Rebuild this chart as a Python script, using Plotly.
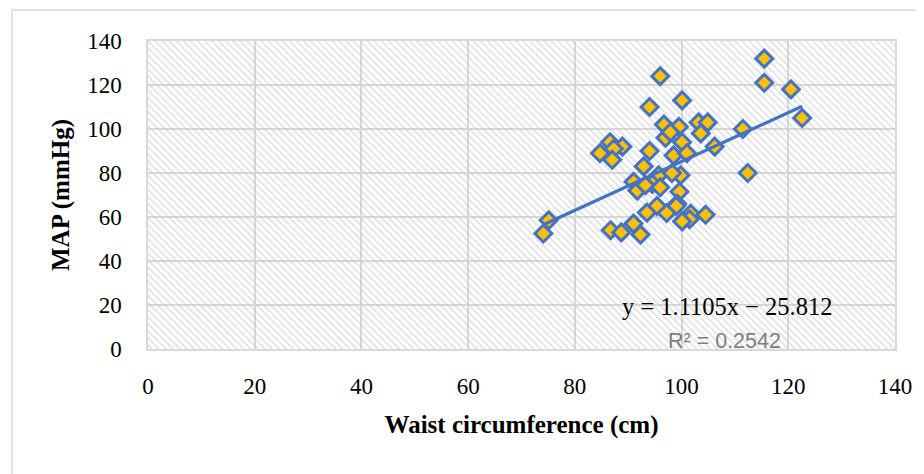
import plotly.graph_objects as go

# Data
waist_cm = [115.5, 115.5, 120.5, 122.6, 96.0, 100.1, 94.0, 96.7, 99.5, 103.2,
            104.9, 103.6, 111.5, 112.4, 97.0, 97.9, 100.1, 106.2, 98.5, 101.0,
            94.0, 84.7, 86.6, 88.9, 87.3, 87.0, 92.9, 99.8, 95.7, 98.2,
            91.0, 94.5, 91.7, 96.0, 99.6, 93.2, 99.2, 95.4, 99.0, 93.5,
            97.2, 101.7, 104.5, 101.5, 100.1, 91.0, 86.7, 88.7, 92.3, 75.1, 74.1]
map_mmhg = [132, 121, 118, 105, 124, 113, 110, 102, 101, 103,
            103, 98, 100, 80, 96, 98.5, 94, 92, 88, 89,
            90, 89, 94, 92, 91, 86, 83, 79, 79, 80,
            76, 75, 72, 73.5, 71.5, 74.5, 66, 65, 65, 62,
            61.8, 61.5, 61, 59, 58, 57, 54, 53, 52, 58.5, 52.5]

slope = 1.1105
intercept = -25.812
r_squared = 0.2542
axis_ticks = [0, 20, 40, 60, 80, 100, 120, 140]

ax_min, ax_max = axis_ticks[0], axis_ticks[-1]
x_lo, x_hi = min(waist_cm), max(waist_cm)
trend_x = [x_lo, x_hi]
trend_y = [slope * v + intercept for v in trend_x]

fig = go.Figure()

# hatched plot-area background
fig.add_trace(go.Scatter(
    x=[ax_min, ax_max, ax_max, ax_min, ax_min],
    y=[ax_min, ax_min, ax_max, ax_max, ax_min],
    mode="lines", line=dict(width=0), fill="toself",
    fillcolor="rgba(0,0,0,0)",
    fillpattern=dict(shape="\\", fgcolor="#c6c6c6", bgcolor="rgba(0,0,0,0)",
                     size=5, solidity=0.35),
    hoverinfo="skip", showlegend=False))

fig.add_trace(go.Scatter(
    x=waist_cm, y=map_mmhg, mode="markers",
    marker=dict(symbol="diamond", size=13, color="#FFC000",
                line=dict(color="#4472C4", width=3)),
    showlegend=False))

fig.add_trace(go.Scatter(
    x=trend_x, y=trend_y, mode="lines",
    line=dict(color="#4472C4", width=3.2), showlegend=False))

serif = "Liberation Serif"

fig.add_annotation(x=108.6, y=19.2, xref="x", yref="y",
                   text=f"y = {slope}x − {abs(intercept)}", showarrow=False,
                   font=dict(family=serif, size=24.5, color="black"))
fig.add_annotation(x=108.0, y=3.8, xref="x", yref="y",
                   text=f"R² = {r_squared}", showarrow=False,
                   font=dict(family="Liberation Sans", size=21.5, color="#7f7f7f"))

# outer chart border (only top/left visible in the frame)
fig.add_shape(type="rect", xref="paper", yref="paper",
              x0=-136/747, x1=1.5, y0=-1.0, y1=1 + 31/308,
              line=dict(color="#d9d9d9", width=1.5), fillcolor="rgba(0,0,0,0)", layer="below")

fig.update_layout(
    width=924, height=474,
    margin=dict(l=140, r=37, t=33, b=133),
    paper_bgcolor="white", plot_bgcolor="white",
    font=dict(family=serif, size=23, color="black"),
    xaxis=dict(range=[ax_min, ax_max], tickvals=axis_ticks, showgrid=True,
               gridcolor="#d9d9d9", gridwidth=1.5, zeroline=False,
               showline=True, linecolor="#d9d9d9", linewidth=1.5, mirror=True,
               ticklabelstandoff=16,
               title=dict(text="<b>Waist circumference (cm)</b>", standoff=17,
                          font=dict(family=serif, size=25))),
    yaxis=dict(range=[ax_min, ax_max], tickvals=axis_ticks, showgrid=True,
               gridcolor="#d9d9d9", gridwidth=1.5, zeroline=False,
               showline=True, linecolor="#d9d9d9", linewidth=1.5, mirror=True,
               ticklabelstandoff=20,
               title=dict(text="<b>MAP (mmHg)</b>", standoff=10,
                          font=dict(family=serif, size=25))),
)

fig.write_html("out.html")
